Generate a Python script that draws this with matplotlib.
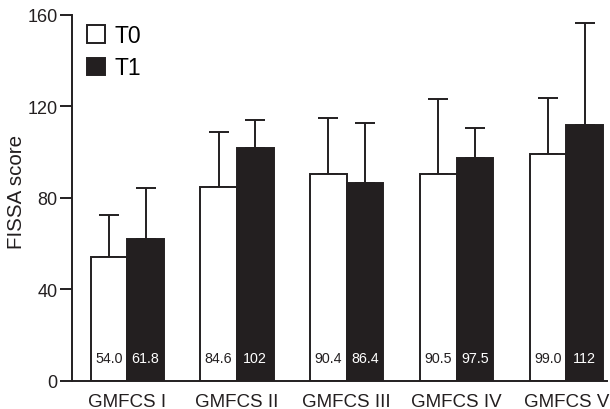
import matplotlib
matplotlib.use("Agg")
import matplotlib.pyplot as plt
from matplotlib.patches import Patch
import numpy as np

plt.rcParams['font.family'] = ['Liberation Sans', 'DejaVu Sans']

groups = ["GMFCS I", "GMFCS II", "GMFCS III", "GMFCS IV", "GMFCS V"]
t0 = [54.0, 84.6, 90.4, 90.5, 99.0]
t1 = [61.8, 102, 86.4, 97.5, 112]
t0_sd = [18.3, 24.1, 24.6, 32.6, 24.5]
t1_sd = [22.7, 12.1, 26.5, 13.2, 44.6]
t0_labels = ["54.0", "84.6", "90.4", "90.5", "99.0"]
t1_labels = ["61.8", "102", "86.4", "97.5", "112"]
yticks = [0, 40, 80, 120, 160]

ink = "#231f20"
lw = 1.4

fig = plt.figure(figsize=(6.1, 4.1), dpi=100)
ax = fig.add_axes([0.1185, 0.069, 0.995 - 0.1185, 0.961 - 0.069])

x = np.arange(len(groups))
w = 0.334

ax.errorbar(x - w / 2, t0, yerr=[np.zeros(len(t0)), t0_sd], fmt='none',
            ecolor=ink, elinewidth=lw, capsize=7, capthick=lw, zorder=1)
ax.errorbar(x + w / 2, t1, yerr=[np.zeros(len(t1)), t1_sd], fmt='none',
            ecolor=ink, elinewidth=lw, capsize=7, capthick=lw, zorder=1)
ax.bar(x - w / 2, t0, width=w, color='white', edgecolor=ink, linewidth=lw, zorder=2)
ax.bar(x + w / 2, t1, width=w, color=ink, edgecolor=ink, linewidth=lw, zorder=2)

for i in range(len(groups)):
    ax.text(x[i] - w / 2, 10.0, t0_labels[i], ha='center', va='center',
            fontsize=10.3, color=ink, zorder=3)
    ax.text(x[i] + w / 2, 10.0, t1_labels[i], ha='center', va='center',
            fontsize=10.3, color='white', zorder=3)

ax.set_xlim(-0.50, 4.37)
ax.set_ylim(0, 160)
ax.set_yticks(yticks)
ax.set_yticklabels([str(v) for v in yticks], fontsize=13, color=ink)
ax.set_xticks(x)
ax.set_xticklabels(groups, fontsize=13.5, color=ink)
ax.tick_params(axis='x', length=0, pad=9)
ax.tick_params(axis='y', length=8.5, width=lw, color=ink, pad=2)
ax.set_ylabel("FISSA score", fontsize=14.8, color=ink)
ax.yaxis.set_label_coords(-0.087, 0.52)

for s in ['top', 'right']:
    ax.spines[s].set_visible(False)
for s in ['left', 'bottom']:
    ax.spines[s].set_linewidth(lw)
    ax.spines[s].set_color(ink)

handles = [Patch(facecolor='white', edgecolor=ink, linewidth=lw),
           Patch(facecolor=ink, edgecolor=ink, linewidth=lw)]
ax.legend(handles, ["T0", "T1"], loc='upper left', bbox_to_anchor=(0.01, 1.0),
          frameon=False, fontsize=16.5, handlelength=0.8, handleheight=0.8,
          handletextpad=0.4, labelspacing=0.4, borderaxespad=0)

fig.savefig("out.png", dpi=100)
